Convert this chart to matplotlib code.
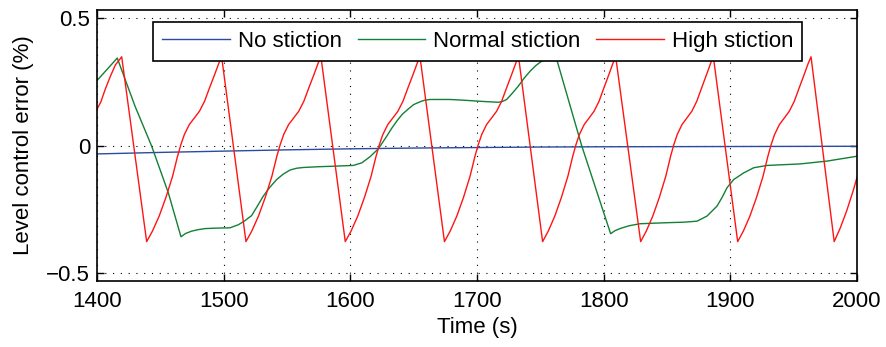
import matplotlib
matplotlib.use('Agg')
import matplotlib.pyplot as plt

plt.rcParams['font.family'] = ['Liberation Sans', 'DejaVu Sans']
plt.rcParams['axes.unicode_minus'] = True

# ---- data ----
x_ticks = [1400, 1500, 1600, 1700, 1800, 1900, 2000]
y_ticks = [-0.5, 0, 0.5]
y_tick_labels = ['\u22120.5', '0', '0.5']

series_names = ['No stiction', 'Normal stiction', 'High stiction']

blue_t = [1400, 1450, 1500, 1550, 1600, 1650, 1700, 1750, 1800, 1900, 2000]
blue_v = [-0.033, -0.027, -0.022, -0.017, -0.013, -0.010, -0.008, -0.006, -0.005, -0.004, -0.003]

green_t = [1400, 1416, 1430, 1443.2, 1456.3, 1466.3, 1470, 1474.7, 1480, 1485.3, 1495,
           1505, 1511.6, 1516.5, 1522.1, 1526.5, 1531.3, 1536.5, 1541.9, 1547, 1552.4,
           1557.5, 1562.9, 1575, 1586.6, 1602.3, 1609, 1615.5, 1622.1, 1628.7, 1632.5,
           1636.6, 1641, 1645.8, 1650, 1655, 1658.5, 1662.9, 1678.7, 1690, 1702.4,
           1716.8, 1720, 1723.4, 1728, 1732.6, 1737, 1741.8, 1746.5, 1751.1, 1755,
           1759, 1762.4, 1782.6, 1805.5, 1809, 1812.9, 1820, 1828.7, 1849.8, 1863.2,
           1873.7, 1881.6, 1889.5, 1893.5, 1897.4, 1902.7, 1910.6, 1918.5, 1929,
           1955.3, 1976.3, 2000]
green_v = [0.254, 0.342, 0.154, -0.003, -0.185, -0.357, -0.344, -0.335, -0.329, -0.325, -0.323,
           -0.322, -0.31, -0.295, -0.274, -0.238, -0.198, -0.163, -0.133, -0.112, -0.096,
           -0.089, -0.086, -0.083, -0.081, -0.078, -0.068, -0.044, -0.013, 0.036, 0.066,
           0.095, 0.122, 0.143, 0.160, 0.171, 0.177, 0.18, 0.18, 0.177, 0.173,
           0.169, 0.172, 0.18, 0.205, 0.232, 0.262, 0.29, 0.313, 0.33, 0.338,
           0.343, 0.346, 0.0, -0.345, -0.333, -0.325, -0.314, -0.306, -0.302, -0.30,
           -0.296, -0.276, -0.237, -0.203, -0.165, -0.133, -0.107, -0.087, -0.078,
           -0.072, -0.061, -0.042]

red_start_t = [1400, 1403, 1406.5, 1410.5, 1414.5]
red_start_v = [0.142, 0.17, 0.22, 0.27, 0.315]
red_peak_t = [1419.5, 1498.4, 1576.8, 1655.0, 1732.8, 1809.5, 1886.6, 1963.7]
red_trough_t = [1439.2, 1517.6, 1596.0, 1674.3, 1751.8, 1829.2, 1905.8, 1982.0]
red_peak_v = 0.347
red_rise_frac = [0.0, 0.077, 0.167, 0.256, 0.346, 0.412, 0.457, 0.503, 0.569,
                 0.637, 0.704, 0.772, 0.838, 0.906, 0.964]
red_rise_v = [-0.376, -0.335, -0.276, -0.204, -0.12, -0.042, 0.004, 0.043, 0.082,
              0.108, 0.134, 0.173, 0.225, 0.277, 0.323]
red_end_t = [1986.6, 1991.9, 1997.1, 2000]
red_end_v = [-0.325, -0.255, -0.175, -0.125]

# assemble the high-stiction sawtooth from the read-off segments
red_t = list(red_start_t)
red_v = list(red_start_v)
for i, (tp, tt) in enumerate(zip(red_peak_t, red_trough_t)):
    red_t.append(tp)
    red_v.append(red_peak_v)
    if i + 1 < len(red_peak_t):
        dur = red_peak_t[i + 1] - tt
        for f, v in zip(red_rise_frac, red_rise_v):
            red_t.append(tt + f * dur)
            red_v.append(v)
    else:
        red_t.append(tt)
        red_v.append(red_rise_v[0])
red_t += red_end_t
red_v += red_end_v

# ---- figure ----
fig = plt.figure(figsize=(8.86, 3.47), dpi=100)
ax = fig.add_axes([97 / 886, 1 - 281 / 347, 760 / 886, 271 / 347])

c_blue = '#2a4ca0'
c_green = '#138034'
c_red = '#ff1414'

ax.plot(blue_t, blue_v, color=c_blue, lw=1.0, label=series_names[0])
ax.plot(green_t, green_v, color=c_green, lw=1.0, label=series_names[1])
ax.plot(red_t, red_v, color=c_red, lw=1.0, label=series_names[2])

ax.set_xlim(1400, 2000)
ax.set_ylim(-0.53, 0.53)
ax.set_xticks(x_ticks)
ax.set_xticklabels([str(v) for v in x_ticks])
ax.set_yticks(y_ticks)
ax.set_yticklabels(y_tick_labels)

ax.grid(True, color='black', linestyle=(0, (1, 6)), linewidth=0.8)
ax.tick_params(direction='in', top=True, right=True, length=5, width=1,
               labelsize=16)
ax.tick_params(axis='x', pad=7)
ax.tick_params(axis='y', pad=5)
for s in ax.spines.values():
    s.set_linewidth(1.2)

ax.set_xlabel('Time (s)', fontsize=16, labelpad=4)
ax.set_ylabel('Level control error (%)', fontsize=16, labelpad=9)

leg = ax.legend(loc='upper center', bbox_to_anchor=(0.501, 0.957), ncol=3,
                fontsize=16, frameon=True, fancybox=False, borderaxespad=0,
                handlelength=3.05, handletextpad=0.35, columnspacing=0.7,
                borderpad=0.42)
leg.get_frame().set_edgecolor('black')
leg.get_frame().set_linewidth(1.2)
leg.get_frame().set_alpha(1)

fig.savefig('out.png', dpi=100)
